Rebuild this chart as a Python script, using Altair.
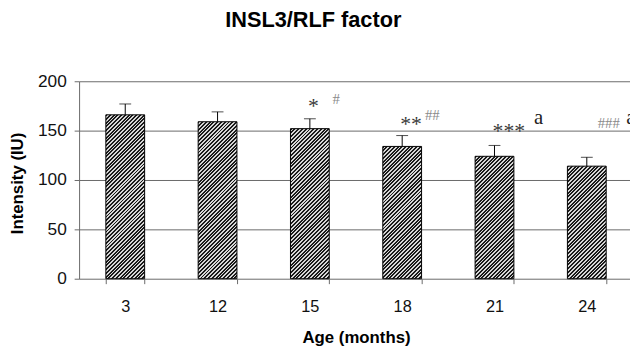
import altair as alt
import pandas as pd

# ---- data ----
ages = ["3", "12", "15", "18", "21", "24"]
means = [166, 159, 152, 134, 124, 114]
errors = [11, 10, 10, 11, 11, 9]

star_ages = ["15", "18", "21"]
star_labels = ["*", "**", "***"]
star_levels = [168, 150, 143]

hash_ages = ["15", "18"]
hash_labels = ["#", "##"]
hash_levels = [176.5, 160.5]

hash_solo_ages = ["24"]
hash_solo_labels = ["###"]
hash_solo_levels = [153]

a_ages = ["21", "24"]
a_labels = ["a", "a"]
a_levels = [156.5, 156.5]

y_ticks = [0, 50, 100, 150, 200]

# ---- tables ----
bars = pd.DataFrame({"age": ages, "mean": means, "err": errors})
bars["upper"] = bars["mean"] + bars["err"]
stars = pd.DataFrame({"age": star_ages, "label": star_labels, "level": star_levels})
hashes = pd.DataFrame({"age": hash_ages, "label": hash_labels, "level": hash_levels})
hashes_solo = pd.DataFrame({"age": hash_solo_ages, "label": hash_solo_labels, "level": hash_solo_levels})
letters = pd.DataFrame({"age": a_ages, "label": a_labels, "level": a_levels})

FONT = "Liberation Sans"
SERIF = "Liberation Serif"
GRID = "#6a6a6a"

PLOT_H = 200
RANGE_W = 561
BAND_W = RANGE_W / (len(ages)) * 0.42  # bar width in pixels


def hatch_for(height_px, width_px=BAND_W, period=3.8, dark="#1a1a1a", light="#d6d6d6", duty=0.52):
    """Striped linear gradient giving 45-degree '/' hatching for a box of given size."""
    r = width_px / height_px
    b = (r + 1) / (r * r + 1)
    a = r * b
    n = max(1, round((width_px + height_px) / period))
    stops = []
    for i in range(n):
        s0, sm, s1 = i / n, (i + duty) / n, (i + 1) / n
        stops += [
            alt.GradientStop(offset=s0, color=dark),
            alt.GradientStop(offset=sm, color=dark),
            alt.GradientStop(offset=sm, color=light),
            alt.GradientStop(offset=s1, color=light),
        ]
    return alt.LinearGradient(gradient="linear", stops=stops, x1=0, y1=0, x2=a, y2=b)


x_enc = alt.X(
    "age:N",
    sort=ages,
    scale=alt.Scale(domain=ages, range=[0, RANGE_W], paddingInner=0.58, paddingOuter=0.29),
    axis=alt.Axis(
        title="Age (months)",
        titleFont=FONT, titleFontSize=17, titleFontWeight="bold", titleColor="#000",
        titleX=280.5, titleY=65, titleBaseline="alphabetic", titleAnchor="middle",
        labelFont=FONT, labelFontSize=16.5, labelColor="#111", labelPadding=15,
        labelAngle=0,
        domain=False, ticks=True, tickBand="extent", tickSize=5, tickColor=GRID,
        grid=False,
    ),
)
y_scale = alt.Scale(domain=[0, 200], nice=False)
y_axis = alt.Axis(
    values=y_ticks,
    title="Intensity (IU)",
    titleFont=FONT, titleFontSize=17, titleFontWeight="bold", titleColor="#000",
    titleX=-57, titleY=103, titleBaseline="alphabetic", titleAngle=270,
    labelFont=FONT, labelFontSize=17.5, labelColor="#111", labelPadding=8,
    domain=True, domainColor=GRID, tickColor=GRID, tickSize=5,
    grid=True, gridColor=GRID, gridWidth=1, gridOpacity=1,
)

layers = []
for i, (age, m) in enumerate(zip(ages, means)):
    h_px = m / 200.0 * PLOT_H
    layer = (
        alt.Chart(bars)
        .transform_filter(alt.datum.age == age)
        .mark_bar(fill=hatch_for(h_px), stroke="#000", strokeWidth=1)
        .encode(
            x=x_enc if i == 0 else alt.X("age:N", sort=ages),
            y=alt.Y("mean:Q", scale=y_scale, axis=y_axis) if i == 0 else alt.Y("mean:Q"),
        )
    )
    layers.append(layer)

err_rule = alt.Chart(bars).mark_rule(color="#000", strokeWidth=1).encode(
    x=alt.X("age:N", sort=ages), y="mean:Q", y2="upper:Q"
)
err_cap = alt.Chart(bars).mark_tick(color="#000", size=12, thickness=1, orient="horizontal").encode(
    x=alt.X("age:N", sort=ages), y="upper:Q"
)
star_layer = alt.Chart(stars).mark_text(
    font=SERIF, fontSize=22, color="#3a3a3a", align="left", baseline="alphabetic", dx=-2
).encode(x=alt.X("age:N", sort=ages), y="level:Q", text="label:N")
hash_layer = alt.Chart(hashes).mark_text(
    font=SERIF, fontSize=15, color="#8a8a8a", align="left", baseline="alphabetic", dx=23
).encode(x=alt.X("age:N", sort=ages), y="level:Q", text="label:N")
hash_solo_layer = alt.Chart(hashes_solo).mark_text(
    font=SERIF, fontSize=15, color="#8a8a8a", align="left", baseline="alphabetic", dx=11
).encode(x=alt.X("age:N", sort=ages), y="level:Q", text="label:N")
letter_layer = alt.Chart(letters).mark_text(
    font=SERIF, fontSize=21, color="#222", align="left", baseline="alphabetic", dx=40
).encode(x=alt.X("age:N", sort=ages), y="level:Q", text="label:N")

chart = (
    alt.layer(*layers, err_rule, err_cap, star_layer, hash_layer, hash_solo_layer, letter_layer)
    .properties(
        width=558,
        height=PLOT_H,
        autosize=alt.AutoSizeParams(type="none"),
        padding={"left": 72, "top": 72, "right": 0, "bottom": 71},
        title=alt.TitleParams(
            "INSL3/RLF factor", font=FONT, fontSize=22, fontWeight="bold", color="#000",
            anchor="start", frame="group", dx=148, baseline="alphabetic", offset=24,
        ),
    )
    .configure_view(stroke=None)
)

chart.save("out.html", embed_options={"renderer": "svg", "actions": False})
